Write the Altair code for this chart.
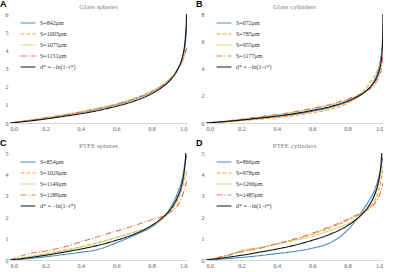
import altair as alt
import pandas as pd

# shared time grid (t*) for measured series
T = [0, 0.1, 0.2, 0.3, 0.4, 0.5, 0.6, 0.7, 0.8, 0.85, 0.9, 0.93, 0.95, 0.97, 0.98, 0.99, 1.0]

TH_LABEL = "d* = \u2212ln(1\u2212t*)"

# Panel A: Glass spheres
A_LABELS = ["S=842\u03bcm", "S=1003\u03bcm", "S=1075\u03bcm", "S=1151\u03bcm"]
A_842 = [0, 0.12, 0.26, 0.42, 0.58, 0.78, 1.00, 1.30, 1.70, 1.98, 2.35, 2.70, 3.00, 3.40, 3.75, 4.30, 5.60]
A_1003 = [0, 0.14, 0.29, 0.45, 0.62, 0.82, 1.05, 1.35, 1.75, 2.02, 2.40, 2.72, 3.00, 3.35, 3.60, 3.90, 4.10]
A_1075 = [0, 0.13, 0.28, 0.44, 0.60, 0.80, 1.03, 1.33, 1.73, 2.00, 2.38, 2.70, 2.98, 3.30, 3.55, 3.85, 4.00]
A_1151 = [0, 0.13, 0.28, 0.43, 0.60, 0.80, 1.02, 1.32, 1.72, 2.00, 2.37, 2.70, 3.00, 3.35, 3.60, 3.90, 4.20]
A_TH_T = [0, 0.1, 0.2, 0.3, 0.4, 0.5, 0.6, 0.7, 0.8, 0.85, 0.9, 0.93, 0.95, 0.97, 0.98, 0.99, 0.995, 0.9975]
A_TH_V = [0, 0.10, 0.22, 0.36, 0.51, 0.69, 0.92, 1.20, 1.61, 1.90, 2.30, 2.66, 3.00, 3.50, 3.90, 4.60, 5.30, 6.00]

# Panel B: Glass cylinders
B_LABELS = ["S=672\u03bcm", "S=785\u03bcm", "S=955\u03bcm", "S=1177\u03bcm"]
B_672 = [0, 0.09, 0.20, 0.33, 0.47, 0.64, 0.86, 1.13, 1.55, 1.85, 2.30, 2.70, 3.10, 3.70, 4.20, 5.00, 6.00]
B_785 = [0, 0.07, 0.16, 0.27, 0.40, 0.55, 0.75, 1.00, 1.45, 1.85, 2.50, 3.00, 3.40, 3.90, 4.20, 4.50, 4.80]
B_955 = [0, 0.12, 0.26, 0.42, 0.58, 0.78, 1.02, 1.30, 1.70, 1.98, 2.35, 2.70, 3.00, 3.40, 3.80, 4.50, 7.00]
B_1177 = [0, 0.13, 0.28, 0.45, 0.62, 0.83, 1.07, 1.36, 1.75, 2.00, 2.30, 2.55, 2.80, 3.20, 3.50, 3.90, 5.00]
B_TH_T = [0, 0.1, 0.2, 0.3, 0.4, 0.5, 0.6, 0.7, 0.8, 0.85, 0.9, 0.93, 0.95, 0.97, 0.98, 0.99, 0.995, 0.999, 0.9997]
B_TH_V = [0, 0.10, 0.22, 0.36, 0.51, 0.69, 0.92, 1.20, 1.61, 1.90, 2.30, 2.66, 3.00, 3.50, 3.90, 4.60, 5.30, 6.90, 8.00]

# Panel C: PTFE spheres
C_LABELS = ["S=854\u03bcm", "S=1029\u03bcm", "S=1149\u03bcm", "S=1289\u03bcm"]
C_854 = [0, 0.06, 0.15, 0.25, 0.36, 0.50, 0.80, 1.15, 1.55, 1.85, 2.35, 2.80, 3.20, 3.70, 4.10, 4.60, 4.90]
C_1029 = [0, 0.15, 0.30, 0.45, 0.62, 0.82, 1.05, 1.30, 1.60, 1.85, 2.20, 2.55, 2.85, 3.30, 3.60, 3.90, 4.10]
C_1149 = [0, 0.12, 0.27, 0.42, 0.60, 0.80, 1.05, 1.30, 1.60, 1.85, 2.25, 2.60, 2.95, 3.40, 3.70, 4.00, 4.20]
C_1289 = [0, 0.28, 0.42, 0.60, 0.85, 1.10, 1.35, 1.60, 1.88, 2.00, 2.20, 2.40, 2.60, 2.90, 3.15, 3.45, 3.70]
C_TH_T = [0, 0.1, 0.2, 0.3, 0.4, 0.5, 0.6, 0.7, 0.8, 0.85, 0.9, 0.93, 0.95, 0.97, 0.98, 0.99, 0.9933]
C_TH_V = [0, 0.10, 0.22, 0.36, 0.51, 0.69, 0.92, 1.20, 1.61, 1.90, 2.30, 2.66, 3.00, 3.50, 3.90, 4.60, 5.00]

# Panel D: PTFE cylinders
D_LABELS = ["S=866\u03bcm", "S=978\u03bcm", "S=1266\u03bcm", "S=1485\u03bcm"]
D_866 = [0, 0.05, 0.12, 0.20, 0.30, 0.40, 0.55, 0.80, 1.40, 1.90, 2.50, 2.90, 3.20, 3.70, 4.00, 4.40, 4.80]
D_978 = [0, 0.18, 0.40, 0.55, 0.75, 0.95, 1.20, 1.50, 1.85, 2.05, 2.30, 2.50, 2.70, 3.10, 3.40, 3.80, 4.20]
D_1266 = [0, 0.15, 0.45, 0.58, 0.75, 0.92, 1.10, 1.38, 1.70, 1.95, 2.30, 2.65, 2.95, 3.40, 3.70, 4.10, 4.40]
D_1485 = [0, 0.17, 0.38, 0.55, 0.76, 0.98, 1.25, 1.55, 1.90, 2.10, 2.30, 2.45, 2.60, 2.85, 3.00, 3.30, 3.60]
D_TH_T = C_TH_T
D_TH_V = C_TH_V

COLORS = ["#4a86c5", "#f0a534", "#c6d98a", "#e8734e", "#111111"]
DASHES = [[1, 0], [4, 2], [1, 0], [6, 2, 1, 2], [1, 0]]
WIDTHS = [1.1, 1.1, 1.1, 1.1, 1.7]

SERIF = "Liberation Serif"
W = 177


def panel(letter, title, labels, series, th_t, th_v, ymax, ystep, h):
    rows = []
    for lab, vals in zip(labels, series):
        for t, v in zip(T, vals):
            rows.append({"t": t, "d": v, "s": lab})
    for t, v in zip(th_t, th_v):
        rows.append({"t": t, "d": v, "s": TH_LABEL})
    df = pd.DataFrame(rows)
    domain = labels + [TH_LABEL]
    leg = alt.Legend(
        title=None, orient="none", legendX=10, legendY=1,
        symbolType="stroke", symbolSize=220, labelFont=SERIF,
        labelFontSize=6, labelColor="#333333", rowPadding=-4,
        labelOffset=4, padding=0, symbolStrokeWidth=1.2,
    )
    lines = alt.Chart(df).mark_line(interpolate="monotone", clip=True).encode(
        x=alt.X("t:Q", scale=alt.Scale(domain=[0, 1], nice=False),
                axis=alt.Axis(values=[0, 0.2, 0.4, 0.6, 0.8, 1.0], format=".1f", title=None)),
        y=alt.Y("d:Q", scale=alt.Scale(domain=[0, ymax], nice=False),
                axis=alt.Axis(values=list(range(0, ymax + 1, ystep)), title=None, domain=False)),
        color=alt.Color("s:N", scale=alt.Scale(domain=domain, range=COLORS), legend=leg),
        strokeDash=alt.StrokeDash("s:N", scale=alt.Scale(domain=domain, range=DASHES), legend=leg),
        strokeWidth=alt.StrokeWidth("s:N", scale=alt.Scale(domain=domain, range=WIDTHS), legend=leg),
    )
    lab_df = pd.DataFrame({"l": [letter], "ttl": [title]})
    lt = alt.Chart(lab_df).mark_text(
        font="Liberation Sans", fontWeight="bold", fontSize=9, align="left", baseline="bottom"
    ).encode(x=alt.value(-10), y=alt.value(-5), text="l:N")
    tt = alt.Chart(lab_df).mark_text(
        font=SERIF, fontSize=7, color="#808080", align="center", baseline="bottom"
    ).encode(x=alt.value(W / 2), y=alt.value(-4), text="ttl:N")
    return alt.layer(lines, lt, tt).properties(
        width=W, height=h,
    ).resolve_scale(color="independent", strokeDash="independent", strokeWidth="independent")


pA = panel("A", "Glass spheres", A_LABELS, [A_842, A_1003, A_1075, A_1151], A_TH_T, A_TH_V, 6, 1, 109)
pB = panel("B", "Glass cylinders", B_LABELS, [B_672, B_785, B_955, B_1177], B_TH_T, B_TH_V, 8, 2, 109)
pC = panel("C", "PTFE spheres", C_LABELS, [C_854, C_1029, C_1149, C_1289], C_TH_T, C_TH_V, 5, 1, 107)
pD = panel("D", "PTFE cylinders", D_LABELS, [D_866, D_978, D_1266, D_1485], D_TH_T, D_TH_V, 5, 1, 107)

top = alt.hconcat(pA, pB, spacing=9).resolve_scale(color="independent", strokeDash="independent", strokeWidth="independent")
bot = alt.hconcat(pC, pD, spacing=9).resolve_scale(color="independent", strokeDash="independent", strokeWidth="independent")

chart = alt.vconcat(top, bot, spacing=8).resolve_scale(
    color="independent", strokeDash="independent", strokeWidth="independent"
).properties(
    padding={"left": 0, "top": 0, "right": 0, "bottom": 0}, background="white"
).configure_view(stroke=None).configure_axis(
    labelFont=SERIF, labelFontSize=6, labelColor="#595959", ticks=False,
    grid=False, labelPadding=2, domainColor="#d9d9d9",
)

chart.save("out.html", embed_options={"renderer": "svg", "actions": False})
